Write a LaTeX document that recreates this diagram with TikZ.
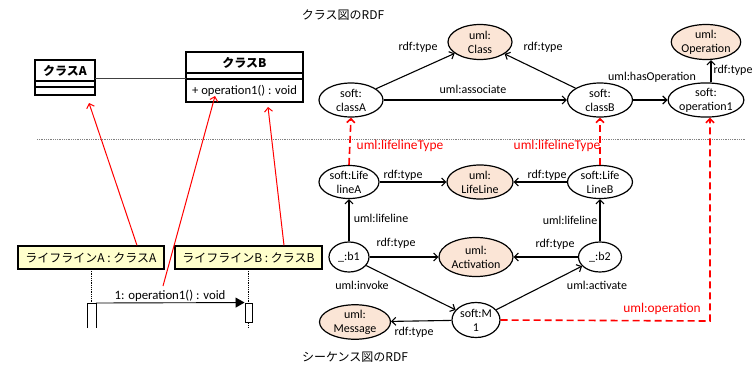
\documentclass[tikz,border=0pt]{standalone}
\usepackage{fontspec}
\setmainfont{Carlito}
\newfontfamily\jp{Noto Sans CJK JP}
\usetikzlibrary{shapes.geometric,arrows.meta}
\definecolor{peach}{HTML}{FBE5D6}
\definecolor{lifey}{HTML}{FFFFCC}
\definecolor{redline}{HTML}{FF0000}
\tikzset{
  txt/.style={font=\fontsize{12}{14}\selectfont, inner sep=0pt, align=center},
  res/.style={ellipse, draw, line width=1.2pt, inner sep=0pt, txt},
  cls/.style={res, fill=peach},
  conn/.style={line width=1.1pt, -{Straight Barb[length=4pt,width=8pt]}},
  redarr/.style={redline, line width=1pt, -{Straight Barb[length=4pt,width=8pt]}},
  reddash/.style={redline, line width=1.6pt, dash pattern=on 7pt off 4pt},
  redlbl/.style={txt, text=redline, font=\fontsize{13.4}{15}\selectfont},
  jptxt/.style={font=\jp\fontsize{12}{14}\selectfont, inner sep=0pt},
  boxline/.style={line width=1.2pt},
}
\begin{document}
\begin{tikzpicture}[x=1pt,y=-1pt]
\useasboundingbox (0,0) rectangle (753,367);

% titles
\node[jptxt] (t1) at (343,15) {クラス図のRDF};
\node[jptxt] (t2) at (355,357) {シーケンス図のRDF};

% separator
\draw[gray, densely dotted, line width=0.8pt] (37,139) -- (745,139);

% RDF nodes (class side)
\node[cls, minimum width=64pt, minimum height=35pt] (Class) at (480,42) {uml:\\Class};
\node[cls, minimum width=62pt, minimum height=35pt] (Operation) at (706,42) {uml:\\Operation};
\node[res, minimum width=64pt, minimum height=34pt] (classA) at (351,100) {soft:\\classA};
\node[res, minimum width=65pt, minimum height=34pt] (classB) at (600,100) {soft:\\classB};
\node[res, minimum width=71pt, minimum height=34pt] (op1) at (706,100) {soft:\\operation1};

% RDF nodes (sequence side)
\node[res, minimum width=60pt, minimum height=33pt] (llA) at (349,182) {soft:Life\\lineA};
\node[cls, minimum width=66pt, minimum height=34pt] (LifeLine) at (480,182) {uml:\\LifeLine};
\node[res, minimum width=65pt, minimum height=33pt] (llB) at (600,182) {soft:Life\\LineB};
\node[res, minimum width=40pt, minimum height=30pt] (b1) at (349,257) {\_:b1};
\node[cls, minimum width=74pt, minimum height=39pt] (Activation) at (476,257) {uml:\\Activation};
\node[res, minimum width=43pt, minimum height=30pt] (b2) at (600,257) {\_:b2};
\node[res, minimum width=48pt, minimum height=35pt] (M1) at (476,320) {soft:M\\1};
\node[cls, minimum width=71pt, minimum height=30pt] (Message) at (355,322) {uml:\\Message};

% RDF edges
\draw[conn] (classA) -- (Class);
\draw[conn] (classB) -- (Class);
\draw[conn] (classA) -- (classB);
\draw[conn] (classB) -- (op1);
\draw[conn] ([xshift=5pt]op1.north) -- ([xshift=5pt]Operation.south);
\draw[conn] (llA) -- (LifeLine);
\draw[conn] (llB) -- (LifeLine);
\draw[conn] (b1) -- (llA);
\draw[conn] (b2) -- (llB);
\draw[conn] (b1) -- (Activation);
\draw[conn] (b2) -- (Activation);
\draw[conn] (b1) -- (M1);
\draw[conn] (M1) -- (b2);
\draw[conn] (M1) -- (Message);

% edge labels
\node[txt] (l1) at (418,47) {rdf:type};
\node[txt] (l2) at (543,47) {rdf:type};
\node[txt] (l3) at (473,89) {uml:associate};
\node[txt] (l4) at (652,77) {uml:hasOperation};
\node[txt] (l5) at (733,70) {rdf:type};
\node[txt] (l6) at (403,175) {rdf:type};
\node[txt] (l7) at (547,175) {rdf:type};
\node[txt] (l8) at (381,218) {uml:lifeline};
\node[txt] (l9) at (570,220) {uml:lifeline};
\node[txt] (l10) at (396,243) {rdf:type};
\node[txt] (l11) at (555,244) {rdf:type};
\node[txt] (l12) at (362,285) {uml:invoke};
\node[txt] (l13) at (597,285) {uml:activate};
\node[txt] (l14) at (414,332) {rdf:type};

% red dashed links
\draw[reddash, -{Straight Barb[length=4pt,width=8pt]}] (llA.north) -- (classA.south);
\draw[reddash, -{Straight Barb[length=4pt,width=8pt]}] (llB.north) -- (classB.south);
\coordinate (opcorner) at (710,321);
\draw[reddash, -{Straight Barb[length=4pt,width=8pt]}] (M1.east) -- (opcorner) -- (opcorner |- op1.south);
\node[redlbl] (r1) at (400,146) {uml:lifelineType};
\node[redlbl] (r2) at (557,146) {uml:lifelineType};
\node[redlbl] (r3) at (662,309) {uml:operation};

% UML class diagram
\draw[boxline] (35,60) rectangle (95,95);
\draw[boxline] (35,81) -- (95,81);
\draw[boxline] (35,87) -- (95,87);
\node[jptxt, font=\jp\bfseries\fontsize{12}{14}\selectfont] (cA) at (65,71) {クラスA};
\coordinate (cAbot) at (89,103);
\draw[boxline] (186,52) rectangle (303,102);
\draw[boxline] (186,73) -- (303,73);
\draw[boxline] (186,79) -- (303,79);
\node[jptxt, font=\jp\bfseries\fontsize{12}{14}\selectfont] (cB) at (244.5,63) {クラスB};
\node[txt, anchor=west, font=\fontsize{12.6}{14}\selectfont] (opB) at (192,91) {+ operation1() : void};
\coordinate (cBop) at (215,96);
\coordinate (cBbot) at (268,107);
\draw[line width=0.8pt, black!75] (95,78) -- (186,78);

% sequence diagram
\node[draw, boxline, fill=lifey, minimum width=146pt, minimum height=23pt, jptxt] (lfA) at (91,257.5) {ライフラインA : クラスA};
\node[draw, boxline, fill=lifey, minimum width=147pt, minimum height=23pt, jptxt] (lfB) at (248.5,257.5) {ライフラインB : クラスB};
\draw[densely dotted, line width=0.8pt] (91,269) -- (91,303);
\draw[densely dotted, line width=0.8pt] (248.5,269) -- (248.5,328);
\draw[line width=0.9pt, fill=white] (87,328) -- (87,303) -- (96,303) -- (96,328);
\node[draw, line width=0.9pt, fill=white, minimum width=7pt, minimum height=19pt, inner sep=0pt] (actB) at (248.5,312.5) {};
\coordinate (actA) at (96,303);
\draw[line width=0.9pt, -{Triangle[length=9pt,width=10pt]}] (actA) -- (actB.north west);
\node[txt, font=\fontsize{12.8}{14}\selectfont] (msg) at (170,296) {1: operation1() : void};
\coordinate (msgtop) at (163,286);

% red trace links
\draw[redarr] ([xshift=46pt]lfA.north) -- (cAbot);
\draw[redarr] (msgtop) -- (cBop);
\draw[redarr] ([xshift=35.5pt]lfB.north) -- (cBbot);
\end{tikzpicture}
\end{document}
